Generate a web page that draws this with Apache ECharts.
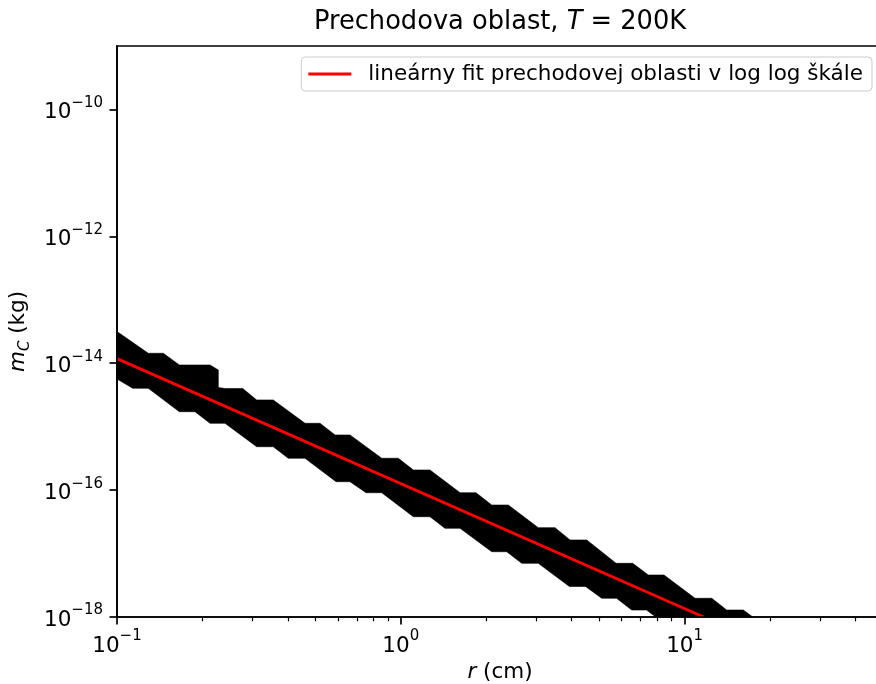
<!DOCTYPE html>
<html>
<head>
<meta charset="utf-8">
<script src="https://cdn.jsdelivr.net/npm/echarts@6/dist/echarts.min.js"></script>
<style>html,body{margin:0;padding:0;background:#fff}#c{width:876px;height:684px}</style>
</head>
<body>
<div id="c"></div>
<script>
// ---- data ----
// staircase band (transition region): upper and lower boundaries, left -> right
const bandUpperR = [0.1, 0.1289, 0.1456, 0.1658, 0.2127, 0.2275, 0.2275, 0.2402, 0.2773, 0.3106, 0.3553,
  0.4597, 0.5192, 0.5864, 0.6622, 0.8564, 0.9799, 1.107, 1.267, 1.617, 1.841, 2.091, 2.392, 3.051, 3.494,
  3.947, 4.520, 5.733, 6.563, 7.449, 8.460, 10.88, 12.46, 14.07, 16.10, 17.39];
const bandUpperM = [3.162e-14, 1.435e-14, 1.435e-14, 9.376e-15, 9.376e-15, 7.816e-15, 4.150e-15, 4.000e-15, 4.000e-15, 2.636e-15, 2.636e-15,
  1.130e-15, 1.130e-15, 7.396e-16, 7.396e-16, 3.177e-16, 3.177e-16, 2.075e-16, 2.075e-16, 9.099e-17, 9.099e-17, 5.821e-17, 5.821e-17, 2.559e-17, 2.559e-17,
  1.637e-17, 1.637e-17, 7.015e-18, 7.015e-18, 4.592e-18, 4.592e-18, 1.972e-18, 1.972e-18, 1.288e-18, 1.288e-18, 1e-18];
const bandLowerR = [0.1, 0.1136, 0.1289, 0.1658, 0.1883, 0.2127, 0.2402, 0.3106, 0.3553, 0.4013, 0.4597,
  0.5913, 0.6622, 0.7542, 0.8564, 1.107, 1.267, 1.431, 1.617, 2.091, 2.361, 2.667, 3.051, 3.925, 4.475,
  5.104, 5.755, 6.511, 7.341, 7.915];
const bandLowerM = [5.649e-15, 4.027e-15, 4.027e-15, 1.722e-15, 1.722e-15, 1.130e-15, 1.130e-15, 4.831e-16, 4.831e-16, 3.177e-16, 3.177e-16,
  1.358e-16, 1.358e-16, 9.099e-17, 9.099e-17, 3.811e-17, 3.811e-17, 2.500e-17, 2.500e-17, 1.069e-17, 1.069e-17, 7.015e-18, 7.015e-18, 3.027e-18, 3.027e-18,
  1.972e-18, 1.972e-18, 1.288e-18, 1.288e-18, 1e-18];
// red linear fit in log-log scale (end points)
const fitR = [0.1, 11.67];
const fitM = [1.186e-14, 1e-18];
// axes
const xRange = [0.1, 50];
const yRange = [1e-18, 1e-9];
const xMajorTicks = [0.1, 1, 10];
const xMinorTicks = [0.2, 0.3, 0.4, 0.5, 0.6, 0.7, 0.8, 0.9, 2, 3, 4, 5, 6, 7, 8, 9, 20, 30, 40];
const yMajorTicks = [1e-18, 1e-16, 1e-14, 1e-12, 1e-10];
const legendName = 'lineárny fit prechodovej oblasti v log log škále';

// ---- chart ----
const FONT = 'DejaVu Sans';
const chart = echarts.init(document.getElementById('c'), null, {renderer: 'canvas'});

function powLabel(v) {
  const e = Math.round(Math.log10(v));
  return '{b|10}{s|' + (e < 0 ? '\u2212' : '') + Math.abs(e) + '}';
}
const powRich = {
  b: {fontSize: 21.5, fontFamily: FONT, color: '#000', lineHeight: 28, verticalAlign: 'bottom'},
  s: {fontSize: 15, fontFamily: FONT, color: '#000', lineHeight: 28, verticalAlign: 'top'}
};

const bandPolyR = bandUpperR.concat(bandLowerR.slice().reverse());
const bandPolyM = bandUpperM.concat(bandLowerM.slice().reverse());

const option = {
  animation: false,
  backgroundColor: '#fff',
  title: {
    text: '{a|Prechodova oblast, }{i|T}{a| = 200K}',
    left: 500, top: 9, textAlign: 'center', padding: 0,
    textStyle: {
      fontWeight: 'normal',
      rich: {
        a: {fontSize: 25.7, fontFamily: FONT, fontWeight: 'normal', color: '#000'},
        i: {fontSize: 25.7, fontFamily: FONT, fontWeight: 'normal', fontStyle: 'italic', color: '#000'}
      }
    }
  },
  legend: {
    data: [legendName],
    right: 4, top: 57,
    icon: 'rect', itemWidth: 43, itemHeight: 3.2, itemGap: 0,
    padding: [6, 9, 6, 7],
    backgroundColor: '#fff', borderColor: '#cccccc', borderWidth: 1, borderRadius: 4,
    selectedMode: false,
    textStyle: {fontFamily: FONT, fontSize: 21.5, color: '#000', padding: [0, 0, 0, 12]}
  },
  grid: {
    left: 117, right: -7, top: 46, bottom: 67,
    show: true, borderColor: '#000', borderWidth: 1.7, backgroundColor: 'transparent',
    containLabel: false, outerBoundsMode: 'none'
  },
  xAxis: [{
    type: 'log', logBase: 10, min: xRange[0], max: xRange[1], z: 5,
    position: 'bottom',
    axisLine: {show: true, lineStyle: {color: '#000', width: 1.7}},
    axisTick: {show: true, customValues: xMajorTicks, length: 7.5, lineStyle: {color: '#000', width: 1.7}},
    axisLabel: {show: true, customValues: xMajorTicks, margin: 12, formatter: powLabel, rich: powRich},
    splitLine: {show: false},
    minorTick: {show: false},
    name: '{i|r}{a| (cm)}', nameLocation: 'middle', nameGap: 42,
    nameTextStyle: {rich: {
      i: {fontSize: 21.5, fontFamily: FONT, fontStyle: 'italic', color: '#000'},
      a: {fontSize: 21.5, fontFamily: FONT, color: '#000'}
    }}
  }, {
    type: 'log', logBase: 10, min: xRange[0], max: xRange[1], z: 5,
    position: 'bottom', offset: 0,
    axisLine: {show: false},
    axisTick: {show: true, customValues: xMinorTicks, length: 4.3, lineStyle: {color: '#000', width: 1.2}},
    axisLabel: {show: false},
    splitLine: {show: false}
  }],
  yAxis: {
    type: 'log', logBase: 10, min: yRange[0], max: yRange[1], z: 5,
    axisLine: {show: true, lineStyle: {color: '#000', width: 1.7}},
    axisTick: {show: true, customValues: yMajorTicks, length: 7.5, lineStyle: {color: '#000', width: 1.7}},
    axisLabel: {show: true, customValues: yMajorTicks, margin: 14, formatter: powLabel, rich: powRich},
    splitLine: {show: false},
    name: '{i|m}{s|C}{a| (kg)}', nameLocation: 'middle', nameGap: 78, nameRotate: 90,
    nameTextStyle: {rich: {
      i: {fontSize: 21.5, fontFamily: FONT, fontStyle: 'italic', color: '#000', lineHeight: 26, verticalAlign: 'top'},
      s: {fontSize: 15, fontFamily: FONT, fontStyle: 'italic', color: '#000', lineHeight: 26, verticalAlign: 'bottom'},
      a: {fontSize: 21.5, fontFamily: FONT, color: '#000', lineHeight: 26, verticalAlign: 'top'}
    }}
  },
  series: [{
    type: 'custom',
    name: 'band',
    coordinateSystem: 'cartesian2d',
    xAxisIndex: 0, yAxisIndex: 0,
    silent: true, z: 1,
    data: [[bandPolyR[0], bandPolyM[0]]],
    renderItem: function (params, api) {
      const pts = bandPolyR.map((r, i) => api.coord([r, bandPolyM[i]]));
      return {type: 'polygon', shape: {points: pts}, style: {fill: '#000', stroke: '#000', lineWidth: 0.6}};
    }
  }, {
    type: 'line',
    name: legendName,
    xAxisIndex: 0, yAxisIndex: 0,
    data: fitR.map((r, i) => [r, fitM[i]]),
    symbol: 'none', showSymbol: false, z: 3,
    lineStyle: {color: '#ff0000', width: 3},
    itemStyle: {color: '#ff0000'}
  }]
};
chart.setOption(option);
</script>
</body>
</html>
